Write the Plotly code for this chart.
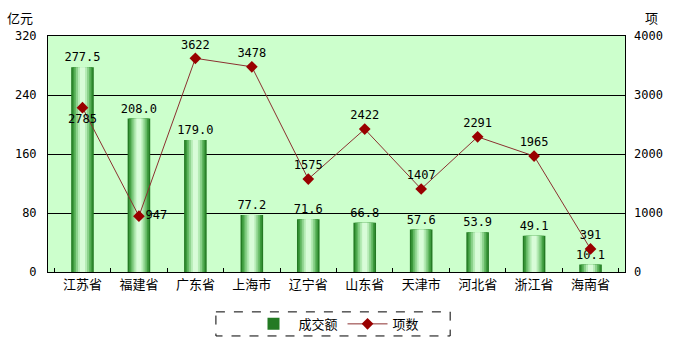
import plotly.graph_objects as go

categories = ["江苏省", "福建省", "广东省", "上海市", "辽宁省", "山东省", "天津市", "河北省", "浙江省", "海南省"]
amount = [277.5, 208.0, 179.0, 77.2, 71.6, 66.8, 57.6, 53.9, 49.1, 10.1]
counts = [2785, 947, 3622, 3478, 1575, 2422, 1407, 2291, 1965, 391]
left_ticks = [0, 80, 160, 240, 320]
right_ticks = [0, 1000, 2000, 3000, 4000]

CJK = "Noto Sans CJK SC"
NUM = "DejaVu Sans Mono, " + CJK

fig = go.Figure()

# simulated cylinder gradient: overlaid bars of decreasing width
layers = [
    (0.40, "#237a23"),
    (0.35, "#3d9a3d"),
    (0.29, "#62b862"),
    (0.23, "#8cd28c"),
    (0.16, "#b6ecb6"),
    (0.09, "#d8fcd8"),
]
for i, (w, c) in enumerate(layers):
    fig.add_trace(go.Bar(
        x=categories, y=amount, width=w, marker=dict(color=c, line=dict(width=0)),
        name="成交额", showlegend=(i == 0), legendgroup="bar",
        text=[f"{v:.1f}" for v in amount] if i == 0 else None,
        textposition="outside" if i == 0 else "none",
        constraintext="none",
        textfont=dict(family=NUM, size=12, color="black"),
        cliponaxis=False, hoverinfo="skip" if i else None,
    ))

positions = ["bottom center", "middle right"] + ["top center"] * 8
fig.add_trace(go.Scatter(
    x=categories, y=counts, yaxis="y2", name="项数", mode="lines+markers+text",
    line=dict(color="#8b3030", width=1),
    marker=dict(symbol="diamond", size=9, color="#990000"),
    text=[str(v) for v in counts], textposition=positions,
    textfont=dict(family=NUM, size=12, color="black"), cliponaxis=False,
))

fig.update_layout(
    width=675, height=356,
    margin=dict(l=48, r=50, t=36, b=84),
    paper_bgcolor="white", plot_bgcolor="#ccffcc",
    barmode="overlay",
    font=dict(family=CJK, size=12, color="black"),
    xaxis=dict(showline=True, linecolor="black", linewidth=1, mirror=True,
               ticks="inside", ticklen=4, tickcolor="black", tickson="boundaries",
               tickfont=dict(family=CJK, size=13), showgrid=False),
    yaxis=dict(range=[0, 320], tickvals=left_ticks, showline=True, linecolor="black",
               mirror=True, gridcolor="black", gridwidth=1, zeroline=False,
               tickfont=dict(family=NUM, size=12), ticks="", ticklabelstandoff=8),
    yaxis2=dict(range=[0, 4000], tickvals=right_ticks, overlaying="y", side="right",
                showgrid=False, zeroline=False, tickfont=dict(family=NUM, size=12),
                ticks="", ticklabelstandoff=8),
    legend=dict(orientation="h", x=0.5, xanchor="center", y=-0.22, yanchor="middle",
                bgcolor="rgba(0,0,0,0)", font=dict(family=CJK, size=13),
                itemwidth=40, tracegroupgap=0),
    showlegend=True,
    shapes=[dict(type="rect", xref="paper", yref="paper", x0=0.291, x1=0.697,
                 y0=-0.169, y1=-0.271, line=dict(color="black", width=1, dash="dash"))],
    annotations=[
        dict(text="亿元", xref="paper", yref="paper", x=-0.048, y=1.08, showarrow=False,
             font=dict(family=CJK, size=13), xanchor="center", yanchor="middle"),
        dict(text="项", xref="paper", yref="paper", x=1.046, y=1.08, showarrow=False,
             font=dict(family=CJK, size=13), xanchor="center", yanchor="middle"),
    ],
)

fig.write_html("out.html", config={"displayModeBar": False},
               post_script="document.body.style.margin='0';")
